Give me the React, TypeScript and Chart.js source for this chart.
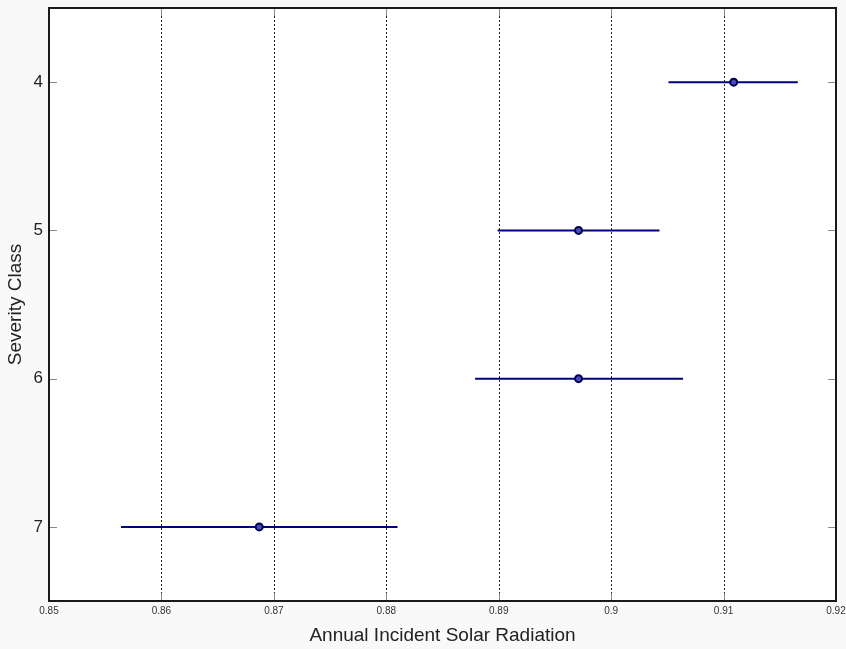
import React, { useEffect, useRef } from "react";
import { Chart, registerables } from "chart.js";

Chart.register(...registerables);

const classes = [4, 5, 6, 7];
const means = [0.9109, 0.8971, 0.8971, 0.8687];
const lows = [0.9051, 0.8899, 0.8879, 0.8564];
const highs = [0.9166, 0.9043, 0.9064, 0.881];
const xTicks = [0.85, 0.86, 0.87, 0.88, 0.89, 0.9, 0.91, 0.92];
const xTickLabels = ["0.85", "0.86", "0.87", "0.88", "0.89", "0.9", "0.91", "0.92"];

const decorPlugin = {
  id: "decor",
  beforeDatasetsDraw(chart: any) {
    const { ctx, chartArea: a, scales } = chart;
    const x = scales.x, y = scales.y;
    ctx.save();
    ctx.fillStyle = "#ffffff";
    ctx.fillRect(a.left, a.top, a.right - a.left, a.bottom - a.top);
    // dotted grid
    ctx.strokeStyle = "#222";
    ctx.lineWidth = 1;
    ctx.setLineDash([2, 2]);
    xTicks.forEach((v) => {
      const px = Math.round(x.getPixelForValue(v)) + 0.5;
      ctx.beginPath();
      ctx.moveTo(px, a.top);
      ctx.lineTo(px, a.bottom);
      ctx.stroke();
    });
    ctx.setLineDash([]);
    // inner ticks
    ctx.strokeStyle = "#888";
    classes.forEach((c) => {
      const py = Math.round(y.getPixelForValue(c)) + 0.5;
      ctx.beginPath();
      ctx.moveTo(a.left, py);
      ctx.lineTo(a.left + 8, py);
      ctx.moveTo(a.right, py);
      ctx.lineTo(a.right - 8, py);
      ctx.stroke();
    });
    xTicks.forEach((v) => {
      const px = Math.round(x.getPixelForValue(v)) + 0.5;
      ctx.beginPath();
      ctx.moveTo(px, a.bottom);
      ctx.lineTo(px, a.bottom - 8);
      ctx.moveTo(px, a.top);
      ctx.lineTo(px, a.top + 8);
      ctx.stroke();
    });
    // error bars
    ctx.strokeStyle = "#000080";
    ctx.lineWidth = 2;
    classes.forEach((c, i) => {
      const py = y.getPixelForValue(c);
      ctx.beginPath();
      ctx.moveTo(x.getPixelForValue(lows[i]), py);
      ctx.lineTo(x.getPixelForValue(highs[i]), py);
      ctx.stroke();
    });
    ctx.restore();
  },
  afterDatasetsDraw(chart: any) {
    const { ctx, chartArea: a } = chart;
    ctx.save();
    ctx.strokeStyle = "#1a1a1a";
    ctx.lineWidth = 2;
    ctx.strokeRect(a.left, a.top, a.right - a.left, a.bottom - a.top);
    ctx.restore();
  },
};

export default function App() {
  const ref = useRef<HTMLCanvasElement>(null);
  useEffect(() => {
    document.body.style.margin = "0";
    document.body.style.background = "#f9f9f9";
    const chart = new Chart(ref.current!, {
      type: "scatter",
      data: {
        datasets: [
          {
            data: classes.map((c, i) => ({ x: means[i], y: c })),
            pointRadius: 3.5,
            pointHoverRadius: 3.5,
            pointBorderWidth: 2,
            pointBackgroundColor: "#4a4ac0",
            pointBorderColor: "#000050",
          },
        ],
      },
      options: {
        animation: false,
        responsive: false,
        events: [],
        layout: { padding: { top: 8, right: 10, left: 0, bottom: 0 } },
        plugins: { legend: { display: false }, tooltip: { enabled: false } },
        scales: {
          x: {
            type: "linear",
            min: 0.85,
            max: 0.92,
            afterBuildTicks: (s: any) => {
              s.ticks = xTicks.map((v) => ({ value: v }));
            },
            afterFit: (s: any) => {
              s.height = 48;
              s.paddingLeft = 0;
              s.paddingRight = 0;
            },
            grid: { display: false, drawTicks: false },
            border: { display: false },
            ticks: {
              padding: 4,
              color: "#333",
              font: { family: "Liberation Sans", size: 10 },
              callback: (v: any, i: number) => xTickLabels[i],
            },
            title: {
              display: true,
              text: "Annual Incident Solar Radiation",
              color: "#222",
              font: { family: "Liberation Sans", size: 19 },
              padding: { top: 8, bottom: 2 },
            },
          },
          y: {
            type: "linear",
            min: 3.5,
            max: 7.5,
            reverse: true,
            afterBuildTicks: (s: any) => {
              s.ticks = classes.map((v) => ({ value: v }));
            },
            afterFit: (s: any) => {
              s.width = 49;
              s.paddingTop = 0;
              s.paddingBottom = 0;
            },
            grid: { display: false, drawTicks: false },
            border: { display: false },
            ticks: {
              padding: 6,
              color: "#222",
              font: { family: "Liberation Sans", size: 17 },
              callback: (v: any) => String(v),
            },
            title: {
              display: true,
              text: "Severity Class",
              color: "#222",
              font: { family: "Liberation Sans", size: 19 },
              padding: { top: 4, bottom: 0 },
            },
          },
        },
      },
      plugins: [decorPlugin],
    } as any);
    return () => chart.destroy();
  }, []);
  return (
    <div style={{ position: "absolute", left: 0, top: 0, width: 846, height: 649, background: "#f9f9f9" }}>
      <canvas ref={ref} width={846} height={649} style={{ display: "block" }} />
    </div>
  );
}
